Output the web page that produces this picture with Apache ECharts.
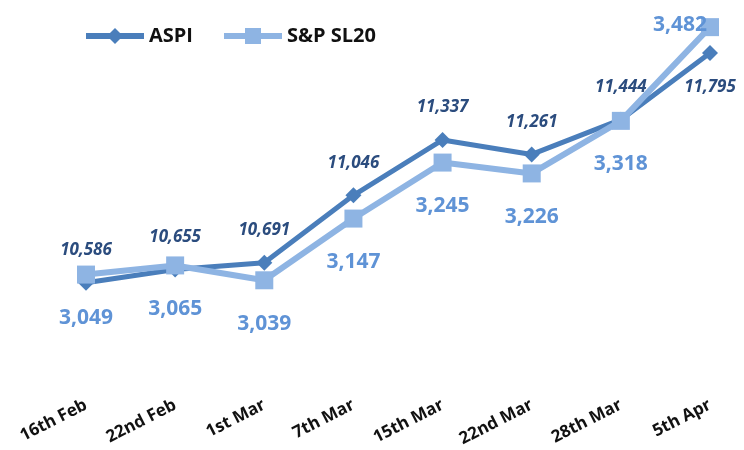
<!DOCTYPE html>
<html>
<head>
<meta charset="utf-8">
<script src="https://cdn.jsdelivr.net/npm/echarts@6/dist/echarts.min.js"></script>
<style>
	html, body { margin: 0; padding: 0; background: #fff; }
	#chart { width: 744px; height: 450px; }
</style>
</head>
<body>
<div id="chart"></div>
<script>
	var categories = ["16th Feb", "22nd Feb", "1st Mar", "7th Mar", "15th Mar", "22nd Mar", "28th Mar", "5th Apr"];
	var aspi = [10586, 10655, 10691, 11046, 11337, 11261, 11444, 11795];
	var sl20 = [3049, 3065, 3039, 3147, 3245, 3226, 3318, 3482];

	var fontFamily = "'Open Sans', 'Noto Sans', sans-serif";
	var fmt = function(p) {
		return p.value.toLocaleString("en-US");
	};

	var chart = echarts.init(document.getElementById("chart"));

	// last points get their labels moved like in the original
	var aspiData = aspi.map(function(v, i) {
		if (i === aspi.length - 1) {
			return { value: v, label: { position: "bottom", distance: 18 } };
		}
		return v;
	});
	var sl20Data = sl20.map(function(v, i) {
		if (i === sl20.length - 1) {
			return { value: v, label: { position: "inside", offset: [-30, -2] } };
		}
		return v;
	});

	chart.setOption({
		animation: false,
		textStyle: { fontFamily: fontFamily },
		legend: {
			top: 21,
			left: 78,
			itemWidth: 58,
			itemHeight: 20,
			itemGap: 28,
			lineStyle: { width: 6 },
			textStyle: {
				fontSize: 20,
				fontWeight: "bold",
				color: "#111",
				fontFamily: fontFamily
			},
			data: ["ASPI", "S&P SL20"]
		},
		grid: {
			left: 86,
			right: 34,
			top: 14,
			bottom: 56
		},
		xAxis: {
			type: "category",
			boundaryGap: false,
			data: categories,
			axisLine: { show: false },
			axisTick: { show: false },
			splitLine: { show: false },
			axisLabel: {
				rotate: 27,
				margin: 10,
				fontSize: 17,
				fontWeight: "bold",
				color: "#111",
				fontFamily: fontFamily
			}
		},
		yAxis: [
			{
				type: "value",
				min: 10000,
				max: 12000,
				show: false
			},
			{
				type: "value",
				min: 2840,
				max: 3505,
				show: false
			}
		],
		series: [
			{
				name: "ASPI",
				type: "line",
				yAxisIndex: 0,
				data: aspiData,
				symbol: "diamond",
				symbolSize: 16,
				lineStyle: { color: "#4A7EBB", width: 5 },
				itemStyle: { color: "#4A7EBB" },
				label: {
					show: true,
					position: "top",
					distance: 16,
					formatter: fmt,
					fontSize: 17,
					fontWeight: "bold",
					fontStyle: "italic",
					color: "#2B4C7E",
					fontFamily: fontFamily
				}
			},
			{
				name: "S&P SL20",
				type: "line",
				yAxisIndex: 1,
				data: sl20Data,
				symbol: "rect",
				symbolSize: 18,
				lineStyle: { color: "#8EB4E3", width: 6 },
				itemStyle: { color: "#8EB4E3" },
				label: {
					show: true,
					position: "bottom",
					distance: 24,
					formatter: fmt,
					fontSize: 21,
					fontWeight: "bold",
					color: "#5F93D6",
					fontFamily: fontFamily
				}
			}
		]
	});
</script>
</body>
</html>
